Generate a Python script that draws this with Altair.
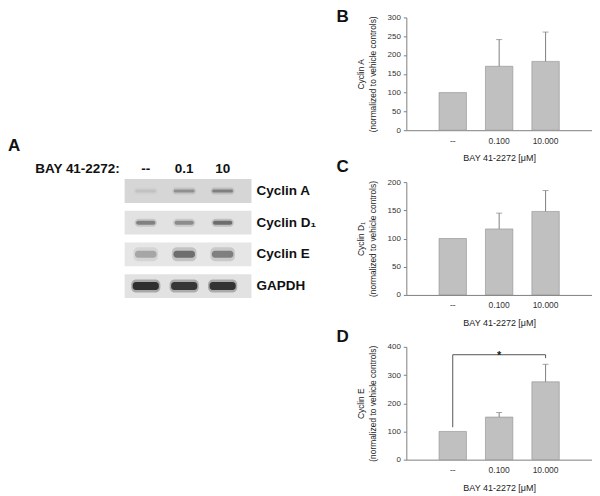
import altair as alt
import pandas as pd

# ---------------- data ----------------
doses = ["--", "0.100", "10.000"]

cyclin_a_mean = [100, 170, 183]
cyclin_a_err = [0, 71, 78]
cyclin_d1_mean = [100, 117, 148]
cyclin_d1_err = [0, 28, 37]
cyclin_e_mean = [100, 151, 276]
cyclin_e_err = [0, 16, 62]

# significance bracket (panel D), in data units
bracket_x = ["--", "--", "10.000", "10.000"]
bracket_y = [115, 372, 372, 360]
star_x = ["0.100"]
star_y = [372]

# western blot (panel A): band intensity per lane (0..1)
blot_rows = ["Cyclin A", "Cyclin D₁", "Cyclin E", "GAPDH"]
blot_lanes = ["--", "0.1", "10"]
band_cyclin_a = [0.08, 0.30, 0.38]
band_cyclin_d1 = [0.40, 0.35, 0.50]
band_cyclin_e = [0.25, 0.50, 0.42]
band_gapdh = [0.85, 0.80, 0.82]

# ---------------- style ----------------
FONT = "Liberation Sans"
BAR_FILL = "#c0c0c0"
BAR_STROKE = "#8f8f8f"
AXIS_GRAY = "#808080"
TEXT = "#333333"
PANEL_W = 186
PANEL_H = 113
BLOT_W = 300
PX_PER_LANE = 38.5
LANE1_PX = 138
# band half-width (lane units), core thickness (px), halo thickness (px) per row
band_style = {
    "Cyclin A": (0.27, 3, 7),
    "Cyclin D₁": (0.25, 4, 8),
    "Cyclin E": (0.28, 7, 14),
    "GAPDH": (0.34, 8, 13),
}
strip_colors = ["#d6d6d6", "#e2e2e2", "#e6e6e6", "#e2e2e2"]

# ---------------- panel A (blot) ----------------
intens = [band_cyclin_a, band_cyclin_d1, band_cyclin_e, band_gapdh]
band_records = []
for r, row in enumerate(blot_rows):
    hw, th, halo = band_style[row]
    for i, lane in enumerate(blot_lanes):
        band_records.append({"row": row, "lane": lane,
                             "x0": i + 1 - hw, "x1": i + 1 + hw,
                             "hx0": i + 1 - hw - 0.04, "hx1": i + 1 + hw + 0.04,
                             "intensity": intens[r][i], "halo_op": intens[r][i] * 0.35,
                             "thick": th, "halo": halo})
band_df = pd.DataFrame(band_records)
strip_df = pd.DataFrame({"row": blot_rows, "x0": [0.45] * 4, "x1": [3.75] * 4,
                         "col": strip_colors})
lane_df = pd.DataFrame({"lane": blot_lanes, "pos": [1, 2, 3]})

xs_blot = alt.Scale(domain=[1 - LANE1_PX / PX_PER_LANE, 1 + (BLOT_W - LANE1_PX) / PX_PER_LANE],
                    nice=False, zero=False)
ys_blot = alt.Scale(domain=blot_rows, range=[162, 281], paddingInner=0.25, paddingOuter=0)

strips = alt.Chart(strip_df).mark_bar().encode(
    x=alt.X("x0:Q", scale=xs_blot, axis=None),
    x2="x1:Q",
    y=alt.Y("row:N", scale=ys_blot, axis=None),
    color=alt.Color("col:N", scale=None),
)
halos = alt.Chart(band_df).mark_bar(color="#222222", cornerRadius=5).encode(
    x=alt.X("hx0:Q", scale=xs_blot, axis=None),
    x2="hx1:Q",
    y=alt.Y("row:N", scale=ys_blot, axis=None),
    opacity=alt.Opacity("halo_op:Q", scale=None),
    size=alt.Size("halo:Q", scale=None),
)
bands = alt.Chart(band_df).mark_bar(color="#1a1a1a", cornerRadius=3).encode(
    x=alt.X("x0:Q", scale=xs_blot, axis=None),
    x2="x1:Q",
    y=alt.Y("row:N", scale=ys_blot, axis=None),
    opacity=alt.Opacity("intensity:Q", scale=None),
    size=alt.Size("thick:Q", scale=None),
)
row_labels = alt.Chart(strip_df).mark_text(
    align="left", baseline="middle", font=FONT, fontSize=13.5, fontWeight="bold", color="#111"
).encode(x=alt.value(249), y=alt.Y("row:N", scale=ys_blot, axis=None), text="row:N")
lane_labels = alt.Chart(lane_df).mark_text(
    align="center", baseline="middle", font=FONT, fontSize=13.5, fontWeight="bold", color="#111"
).encode(x=alt.X("pos:Q", scale=xs_blot, axis=None), y=alt.value(152), text="lane:N")
bay_label = alt.Chart(pd.DataFrame({"t": ["BAY 41-2272:"]})).mark_text(
    align="right", baseline="middle", font=FONT, fontSize=13.5, fontWeight="bold", color="#111"
).encode(x=alt.value(112), y=alt.value(152), text="t:N")
letter_a = alt.Chart(pd.DataFrame({"t": ["A"]})).mark_text(
    align="left", baseline="top", font=FONT, fontSize=17, fontWeight="bold", color="#111"
).encode(x=alt.value(0), y=alt.value(121), text="t:N")

blot = alt.layer(strips, halos, bands, row_labels, lane_labels, bay_label, letter_a).properties(
    width=BLOT_W, height=3 * PANEL_H + 2 * 52
)


# ---------------- bar panels ----------------
def panel(letter, ytitle, means, errs, ymax, ystep, letter_y, bracket=False):
    df = pd.DataFrame({"dose": doses, "mean": means, "err": errs})
    df["top"] = df["mean"] + df["err"]
    err_df = df[df["err"] > 0]

    xscale = alt.Scale(domain=doses, paddingInner=0.41, paddingOuter=0.705)
    xaxis = alt.Axis(title="BAY 41-2272 [μM]", labelAngle=0, ticks=False, labelPadding=6,
                     titlePadding=9, labelFontSize=8.5, titleFontSize=9)
    yscale = alt.Scale(domain=[0, ymax], nice=False)
    yaxis = alt.Axis(title=ytitle, values=list(range(0, ymax + 1, ystep)), grid=False,
                     tickSize=3, labelPadding=3, titlePadding=10, labelFontSize=8,
                     titleFontSize=8.4, titleLineHeight=12)

    def xe(field="dose"):
        return alt.X(f"{field}:N", sort=doses, scale=xscale, axis=xaxis)

    def ye(field):
        return alt.Y(f"{field}:Q", scale=yscale, axis=yaxis)

    bars = alt.Chart(df).mark_bar(fill=BAR_FILL, stroke=BAR_STROKE, strokeWidth=0.6).encode(
        x=xe(), y=ye("mean")
    )
    rules = alt.Chart(err_df).mark_rule(color=AXIS_GRAY, strokeWidth=1).encode(
        x=xe(), y=ye("mean"), y2="top:Q"
    )
    caps = alt.Chart(err_df).mark_tick(color=AXIS_GRAY, orient="horizontal", size=6,
                                       thickness=1).encode(x=xe(), y=ye("top"))
    let = alt.Chart(pd.DataFrame({"t": [letter]})).mark_text(
        align="left", baseline="top", font=FONT, fontSize=17, fontWeight="bold", color="#111"
    ).encode(x=alt.value(-70), y=alt.value(letter_y), text="t:N")
    layers = [bars, rules, caps, let]
    if bracket:
        bdf = pd.DataFrame({"bx": bracket_x, "by": bracket_y, "o": list(range(len(bracket_x)))})
        br = alt.Chart(bdf).mark_line(color="#555555", strokeWidth=1).encode(
            x=xe("bx"), y=ye("by"), order="o:O"
        )
        sdf = pd.DataFrame({"sx": star_x, "sy": star_y, "t": ["*"]})
        star = alt.Chart(sdf).mark_text(font=FONT, fontSize=11, fontWeight="bold",
                                        baseline="alphabetic", dy=4, color="#222").encode(
            x=xe("sx"), y=ye("sy"), text="t:N"
        )
        layers += [br, star]
    return alt.layer(*layers).properties(width=PANEL_W, height=PANEL_H)


pB = panel("B", ["Cyclin A", "(normalized to vehicle controls)"],
           cyclin_a_mean, cyclin_a_err, 300, 50, -8)
pC = panel("C", ["Cyclin D₁", "(normalized to vehicle controls)"],
           cyclin_d1_mean, cyclin_d1_err, 200, 50, -23)
pD = panel("D", ["Cyclin E", "(normalized to vehicle controls)"],
           cyclin_e_mean, cyclin_e_err, 400, 100, -18, bracket=True)

right = alt.vconcat(pB, pC, pD, spacing=52, bounds="flush")

chart = alt.hconcat(blot, right, spacing=99, bounds="flush").properties(
    padding=0
).configure_view(stroke=None).configure_axis(
    labelFont=FONT, titleFont=FONT, labelColor=TEXT, titleColor="#222222",
    domainColor=AXIS_GRAY, tickColor=AXIS_GRAY, titleFontWeight="normal"
)

chart.save("out.html", embed_options={"renderer": "svg", "actions": False})
